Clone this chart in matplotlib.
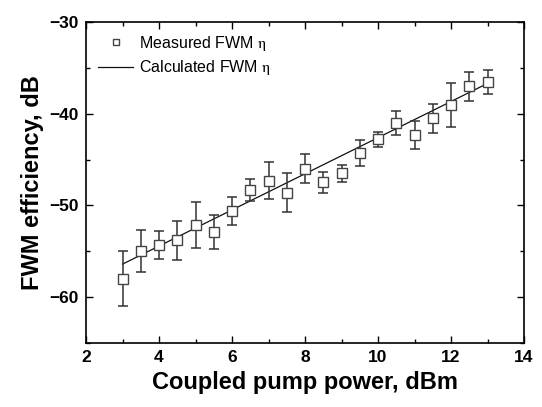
import matplotlib
matplotlib.use("Agg")
import matplotlib.pyplot as plt
from matplotlib.ticker import MultipleLocator

plt.rcParams['font.family'] = ['Liberation Sans', 'DejaVu Sans']
plt.rcParams['mathtext.fontset'] = 'stix'

power = [3, 3.5, 4, 4.5, 5, 5.5, 6, 6.5, 7, 7.5, 8, 8.5, 9, 9.5, 10, 10.5, 11, 11.5, 12, 12.5, 13]
measured = [-58.0, -55.0, -54.3, -53.8, -52.1, -52.9, -50.6, -48.3, -47.3, -48.6, -46.0,
            -47.5, -46.5, -44.3, -42.8, -41.0, -42.3, -40.5, -39.0, -37.0, -36.5]
err = [3.0, 2.3, 1.5, 2.1, 2.5, 1.9, 1.5, 1.2, 2.0, 2.1, 1.6, 1.1, 0.9, 1.4, 0.8, 1.3,
       1.5, 1.6, 2.4, 1.6, 1.3]
calc_power = [3, 13]
calc_eff = [-56.4, -36.7]

fig = plt.figure(figsize=(5.42, 4.07), dpi=100)
ax = fig.add_axes([0.1587, 0.1572, 0.8081, 0.7888])

ax.errorbar(power, measured, yerr=err, fmt='none', ecolor='#333333', elinewidth=1.1,
            capsize=3.5, capthick=1.1, zorder=2)
ax.plot(power, measured, 's', mfc='white', mec='#444444', mew=1.0, ms=6.5,
        linestyle='none', zorder=3, label=r'Measured FWM $\mathrm{\eta}$')
ax.plot(calc_power, calc_eff, '-', color='#111111', lw=0.9, zorder=1,
        label=r'Calculated FWM $\mathrm{\eta}$')

ax.set_xlim(2, 14)
ax.set_ylim(-65, -30)
ax.xaxis.set_major_locator(MultipleLocator(2))
ax.xaxis.set_minor_locator(MultipleLocator(1))
ax.yaxis.set_major_locator(MultipleLocator(10))
ax.yaxis.set_minor_locator(MultipleLocator(5))
ax.tick_params(which='both', direction='in', top=True, right=True, width=1.0)
ax.tick_params(which='major', length=5, labelsize=12.5, pad=5)
ax.tick_params(which='minor', length=3)
for lbl in ax.get_xticklabels() + ax.get_yticklabels():
    lbl.set_fontweight('bold')
for s in ax.spines.values():
    s.set_linewidth(1.2)

ax.set_xlabel('Coupled pump power, dBm', fontsize=17, fontweight='bold', labelpad=4)
ax.set_ylabel('FWM efficiency, dB', fontsize=17, fontweight='bold', labelpad=4)

leg = ax.legend(loc='upper left', bbox_to_anchor=(-0.005, 1.008), frameon=False,
                fontsize=11.5, handlelength=2.2, handletextpad=0.35, labelspacing=0.35,
                markerscale=0.6)

fig.savefig('out.png', dpi=100, facecolor='white')
